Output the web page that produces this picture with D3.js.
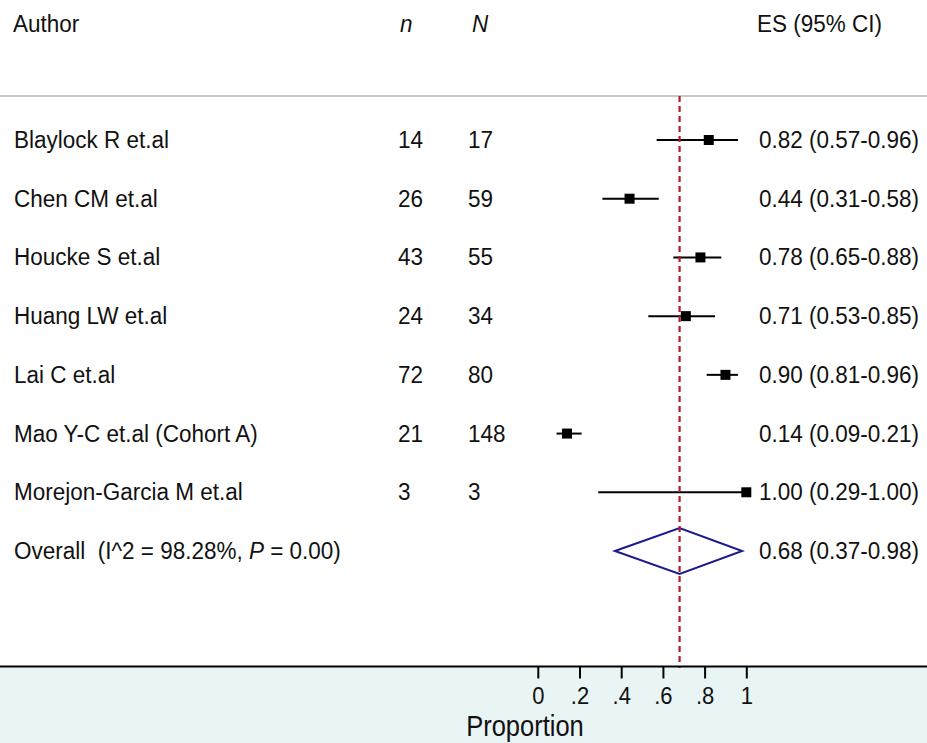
<!DOCTYPE html>
<html><head><meta charset="utf-8">
<script src="https://cdn.jsdelivr.net/npm/d3@7"></script>
<style>body{margin:0;background:#fff}svg{display:block}text{font-family:"Liberation Sans",Arial,sans-serif;fill:#111;white-space:pre}</style>
</head><body>
<script>
const authors = ["Blaylock R et.al","Chen CM et.al","Houcke S et.al","Huang LW et.al","Lai C et.al","Mao Y-C et.al (Cohort A)","Morejon-Garcia M et.al"];
const nEvents = [14,26,43,24,72,21,3];
const nTotal = [17,59,55,34,80,148,3];
const es = [0.82,0.44,0.78,0.71,0.90,0.14,1.00];
const lo = [0.57,0.31,0.65,0.53,0.81,0.09,0.29];
const hi = [0.96,0.58,0.88,0.85,0.96,0.21,1.00];
const overall = {es:0.68, lo:0.37, hi:0.98, i2:"98.28%", p:"0.00"};
const ticks = [0,0.2,0.4,0.6,0.8,1];
const tickLabels = ["0",".2",".4",".6",".8","1"];

const W=927,H=743;
const svg=d3.select("body").append("svg").attr("width",W).attr("height",H);
const x=d3.scaleLinear().domain([0,1]).range([537.8,746.3]);
const rows=authors.map((a,i)=>i).concat([authors.length]);
const y=d3.scalePoint().domain(rows).range([140,551]);
const fs=22.5, sy=1.1;
function txt(sel,tx,ty,s){return sel.append("text").attr("transform",`translate(${tx},${ty}) scale(1,${sy})`).text(s||null);}

// bottom band
svg.append("rect").attr("x",0).attr("y",666.5).attr("width",W).attr("height",H-666.5).attr("fill","#e9f4f4");
// header line
svg.append("line").attr("x1",0).attr("x2",W).attr("y1",96).attr("y2",96).attr("stroke","#c8c8c8").attr("stroke-width",2);

// header
const hdr=svg.append("g").attr("font-size",fs);
txt(hdr,13,32,"Author");
txt(hdr,400,32,"n").attr("font-style","italic");
txt(hdr,472,32,"N").attr("font-style","italic");
txt(hdr,757,32,"ES (95% CI)");

const f2=d3.format(".2f");
const g=svg.append("g").attr("font-size",fs);
authors.forEach((a,i)=>{
  const yy=y(i)+8;
  txt(g,14,yy,a);
  txt(g,398,yy,String(nEvents[i]));
  txt(g,468,yy,String(nTotal[i]));
  txt(g,759,yy,`${f2(es[i])} (${f2(lo[i])}-${f2(hi[i])})`);
});
const oy=y(authors.length)+8;
const ot=txt(g,14,oy);
ot.append("tspan").text(`Overall  (I^2 = ${overall.i2}, `);
ot.append("tspan").attr("font-style","italic").text("P");
ot.append("tspan").text(` = ${overall.p})`);
txt(g,759,oy,`${f2(overall.es)} (${f2(overall.lo)}-${f2(overall.hi)})`);

// CIs
const m=svg.append("g");
authors.forEach((a,i)=>{
  m.append("line").attr("x1",x(lo[i])).attr("x2",x(hi[i])).attr("y1",y(i)).attr("y2",y(i)).attr("stroke","#000").attr("stroke-width",2);
  m.append("rect").attr("x",x(es[i])-5).attr("y",y(i)-5).attr("width",10).attr("height",10).attr("fill","#000");
});
// diamond
const dy=y(authors.length);
svg.append("path").attr("d",`M${x(overall.lo)},${dy}L${x(overall.es)},${dy-23}L${x(overall.hi)},${dy}L${x(overall.es)},${dy+23}Z`)
  .attr("fill","none").attr("stroke","#1a1a8c").attr("stroke-width",2);
// dashed line
svg.append("line").attr("x1",x(overall.es)).attr("x2",x(overall.es)).attr("y1",96).attr("y2",668)
  .attr("stroke","#b01c2c").attr("stroke-width",2.2).attr("stroke-dasharray","6,4");

// axis
const ax=svg.append("g").attr("transform","translate(0,666.5)");
ax.append("line").attr("x1",0).attr("x2",W).attr("stroke","#000").attr("stroke-width",2);
const axis=d3.axisBottom(x).tickValues(ticks).tickFormat((d,i)=>tickLabels[i]).tickSize(12).tickPadding(0);
const axg=ax.append("g").call(axis);
axg.select(".domain").remove();
axg.selectAll(".tick line").attr("stroke","#000").attr("stroke-width",2);
axg.selectAll(".tick text").attr("y",null).attr("dy",null)
  .attr("transform",`translate(0,37.5) scale(1,${sy})`)
  .attr("font-size",22).attr("fill","#111").attr("font-family","Liberation Sans, Arial, sans-serif");
svg.append("text").attr("transform",`translate(525,736) scale(1,1.15)`).attr("text-anchor","middle").attr("font-size",25.5).text("Proportion");
</script>
</body></html>
